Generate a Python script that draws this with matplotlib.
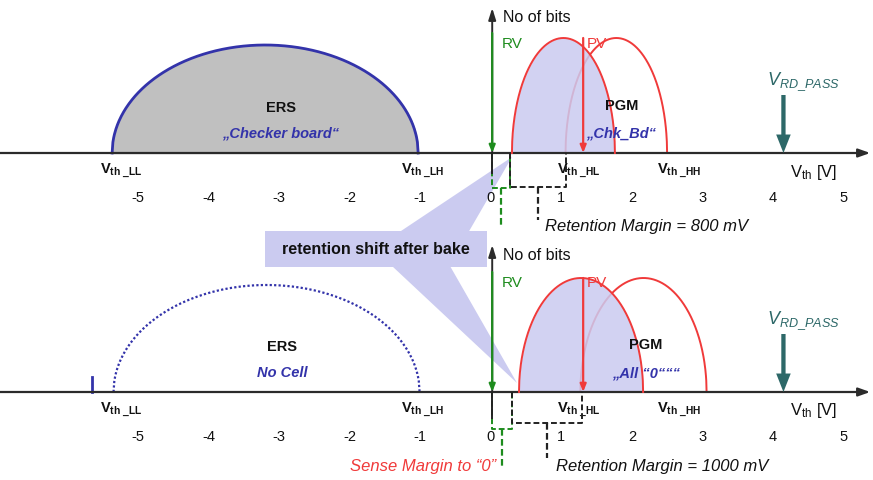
import numpy as np
import matplotlib
matplotlib.use("Agg")
import matplotlib.pyplot as plt
from matplotlib.patches import Polygon, Rectangle

plt.rcParams["font.family"] = ["Liberation Sans", "DejaVu Sans"]
plt.rcParams["mathtext.fontset"] = "custom"
plt.rcParams["mathtext.rm"] = "Liberation Sans"
plt.rcParams["mathtext.it"] = "Liberation Sans:italic"
plt.rcParams["mathtext.bf"] = "Liberation Sans:bold"

# ---- data (threshold voltages in V, distribution heights in arbitrary bit counts) ----
volt_ticks = [-5, -4, -3, -2, -1, 0, 1, 2, 3, 4, 5]

ers_lo = [-5.39, -5.37]
ers_hi = [-1.05, -1.03]
ers_height = [108, 107]
ers_notes = ["„Checker board“", "No Cell"]

pgm_after_lo = [0.28, 0.38]
pgm_after_hi = [1.74, 2.14]
pgm_before_lo = [1.04, 1.25]
pgm_before_hi = [2.48, 3.04]
pgm_height = [115, 114]
pgm_notes = ["„Chk_Bd“", "„All “0“““"]

rv_level = 0.0
pv_level = [1.29, 1.29]
rd_pass_level = 4.13
empty_cell_level = -5.67

sense_hi = [0.25, 0.28]
retention_hi = [1.05, 1.28]
retention_labels = ["Retention Margin = 800 mV", "Retention Margin = 1000 mV"]

vth_names = ["LL", "LH", "HL", "HH"]
vth_label_x = [-5.56, -1.30, 0.92, 2.33]

# ---- colours ----
AXIS = "#2b2b2b"
LAV = "#cbcbf0"
RED = "#f03a3a"
GREEN = "#1e8c1e"
BLUE = "#3333aa"
TEAL = "#2d6868"
GRAY = "#c0c0c0"

fig = plt.figure(figsize=(8.73, 4.80), dpi=100)

# callout layer (figure pixel frame)
ov = fig.add_axes([0, 0, 1, 1], zorder=0)
ov.set_xlim(0, 873)
ov.set_ylim(480, 0)
ov.axis("off")
ov.add_patch(Polygon([(398, 233), (512, 157), (468, 233)], closed=True,
                     facecolor=LAV, edgecolor="none"))
ov.add_patch(Polygon([(392, 266), (450, 266), (517, 383)], closed=True,
                     facecolor=LAV, edgecolor="none"))
ov.add_patch(Rectangle((265, 231), 222, 36, facecolor=LAV, edgecolor="none"))
ov.text(376, 249, "retention shift after bake", ha="center", va="center",
        fontsize=11.5, fontweight="bold", color="#111111")

XMIN, XMAX = -6.98, 5.40


def half_ellipse(lo, hi, h, n=400):
    x = np.linspace(lo, hi, n)
    c = 0.5 * (lo + hi)
    a = 0.5 * (hi - lo)
    y = h * np.sqrt(np.clip(1 - ((x - c) / a) ** 2, 0, None))
    return x, y


def arrow(ax, x0, y0, x1, y1, color, lw=1.5, hl=0.5, hw=0.2):
    ax.annotate("", xy=(x1, y1), xytext=(x0, y0),
                arrowprops=dict(arrowstyle=f"-|>,head_length={hl},head_width={hw}",
                                color=color, lw=lw, shrinkA=0, shrinkB=0),
                annotation_clip=False)


def panel(ax, i, ylim, axis_top):
    ax.set_xlim(XMIN, XMAX)
    ax.set_ylim(*ylim)
    ax.axis("off")
    ax.patch.set_visible(False)

    # erased-state distribution
    x, y = half_ellipse(ers_lo[i], ers_hi[i], ers_height[i])
    if i == 0:
        ax.fill_between(x, 0, y, color=GRAY, zorder=2)
        ax.plot(x, y, color=BLUE, lw=2, zorder=3)
    else:
        ax.plot(x, y, color=BLUE, lw=1.6, ls=(0, (1, 1)), zorder=3)
        ax.plot([empty_cell_level, empty_cell_level], [0, 15], color=BLUE, lw=2, zorder=3)
    ax.text(0.5 * (ers_lo[i] + ers_hi[i]) + 0.22, 45, "ERS", ha="center", va="center",
            fontsize=10.5, fontweight="bold", color="#111111", zorder=5)
    ax.text(0.5 * (ers_lo[i] + ers_hi[i]) + 0.22, 19, ers_notes[i], ha="center", va="center",
            fontsize=10.5, fontweight="bold", style="italic", color=BLUE, zorder=5)

    # programmed-state distributions: before bake (outline) and after bake (shaded)
    xb, yb = half_ellipse(pgm_before_lo[i], pgm_before_hi[i], pgm_height[i])
    ax.plot(xb, yb, color=RED, lw=1.4, zorder=2)
    xa, ya = half_ellipse(pgm_after_lo[i], pgm_after_hi[i], pgm_height[i])
    ax.fill_between(xa, 0, ya, color=LAV, alpha=0.85, lw=0, zorder=3)
    ax.plot(xa, ya, color=RED, lw=1.4, zorder=4)
    pgm_x = [1.83, 2.18][i]
    ax.text(pgm_x, 47, "PGM", ha="center", va="center", fontsize=10.5,
            fontweight="bold", color="#111111", zorder=6)
    ax.text(pgm_x, 19, pgm_notes[i], ha="center", va="center", fontsize=10.5,
            fontweight="bold", style="italic", color=BLUE, zorder=6)

    # Vth axis
    arrow(ax, XMIN, 0, 5.36, 0, AXIS, lw=1.6, hl=0.7, hw=0.25)
    # bit-count axis
    arrow(ax, 0, 0, 0, axis_top, AXIS, lw=1.4, hl=0.7, hw=0.22)
    ax.text(0.16, axis_top - 10, "No of bits", ha="left", va="center",
            fontsize=11.5, color="#111111")

    # read verify / program verify levels
    arrow(ax, rv_level, 120, rv_level, 0, GREEN, lw=1.6, hl=0.45, hw=0.18)
    ax.text(0.14, 109, "RV", ha="left", va="center", fontsize=11, color=GREEN, zorder=6)
    arrow(ax, pv_level[i], pgm_height[i], pv_level[i], 0, RED, lw=1.6, hl=0.45, hw=0.18)
    ax.text(pv_level[i] + 0.05, 109, "PV", ha="left", va="center", fontsize=11,
            color=RED, zorder=6)

    # read-pass level
    ax.annotate("", xy=(rd_pass_level, 0), xytext=(rd_pass_level, 58),
                arrowprops=dict(arrowstyle="simple,head_length=0.95,head_width=0.75,tail_width=0.22",
                                color=TEAL, lw=0, shrinkA=0, shrinkB=0, mutation_scale=14))
    ax.text(4.41, 71, r"$\mathit{V}_{\mathit{RD\_PASS}}$", ha="center", va="center",
            fontsize=13, color=TEAL)

    # tick labels and threshold names
    for v in volt_ticks:
        ax.text(v - 0.02, -45, f"{v}", ha="center", va="center", fontsize=10.5,
                color="#111111")
    for name, xl in zip(vth_names, vth_label_x):
        ax.text(xl, -18, r"$\mathbf{V}_{\mathbf{th\ \_" + name + "}}$", ha="left",
                va="center", fontsize=10.5, color="#111111")
    ax.text(4.23, -19, r"V$_{\mathrm{th}}$ [V]", ha="left", va="center",
            fontsize=12, color="#111111")

    # margin brackets
    gdn = [-35, -37][i]
    gstem = [-72, -75][i]
    mid = 0.5 * sense_hi[i]
    ax.plot([0, 0, sense_hi[i], sense_hi[i]], [0, gdn, gdn, 0], color=GREEN,
            lw=1.4, ls=(0, (3, 1.5)), zorder=4)
    ax.plot([mid, mid], [gdn, gstem], color=GREEN, lw=1.6, ls=(0, (3, 1.5)), zorder=4)

    bdn = [-34, -31][i]
    bstem = [-67, -66][i]
    bmid = 0.5 * (sense_hi[i] + retention_hi[i])
    ax.plot([sense_hi[i], sense_hi[i], retention_hi[i], retention_hi[i]], [0, bdn, bdn, 0],
            color="#222222", lw=1.4, ls=(0, (3, 1.5)), zorder=4)
    ax.plot([bmid, bmid], [bdn, bstem], color="#222222", lw=1.6, ls=(0, (3, 1.5)), zorder=4)
    ax.plot([0, 0], [0, [-20, -26][i]], color="#222222", lw=1.4, zorder=4)

    ax.text([0.75, 0.91][i], -74, retention_labels[i], ha="left", va="center",
            fontsize=12, style="italic", color="#111111")


ax_top = fig.add_axes([0, 0.5, 1, 0.5], zorder=1)
panel(ax_top, 0, (-87, 153), 145)

ax_bot = fig.add_axes([0, 0, 1, 0.5], zorder=1)
panel(ax_bot, 1, (-88, 152), 147)
ax_bot.text(-2.01, -74, "Sense Margin to “0”", ha="left", va="center",
            fontsize=12, style="italic", color=RED)

fig.savefig("out.png", dpi=100)
